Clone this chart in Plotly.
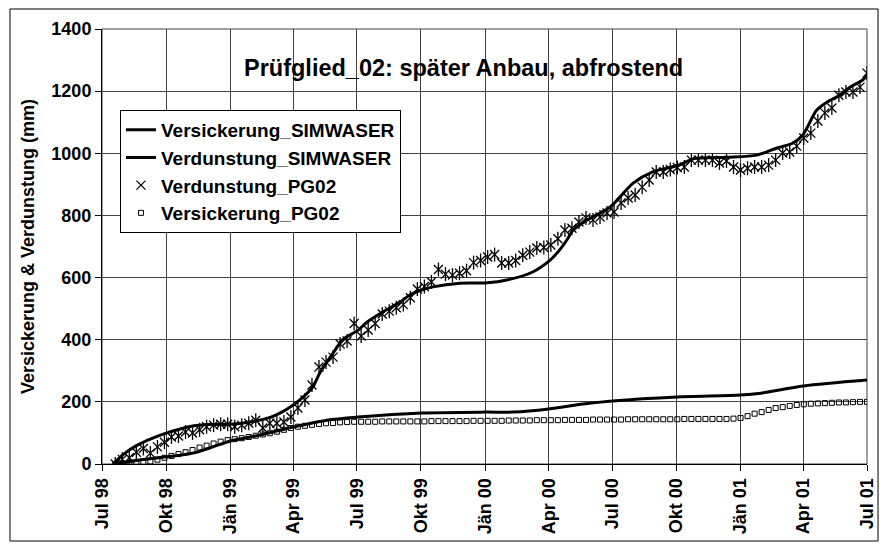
import pandas as pd
import plotly.graph_objects as go

# quarterly ticks on the date axis
tick_dates = ["1998-07-01", "1998-10-01", "1999-01-01", "1999-04-01", "1999-07-01",
              "1999-10-01", "2000-01-01", "2000-04-01", "2000-07-01", "2000-10-01",
              "2001-01-01", "2001-04-01", "2001-07-01"]
tick_labels = ["Jul 98", "Okt 98", "Jän 99", "Apr 99", "Jul 99", "Okt 99", "Jän 00",
               "Apr 00", "Jul 00", "Okt 00", "Jän 01", "Apr 01", "Jul 01"]

# simulated (SIMWASER) cumulative series
verd_sim_dates = ["1998-07-17", "1998-08-01", "1998-08-20", "1998-09-10", "1998-10-02",
                  "1998-10-20", "1998-11-08", "1998-12-01", "1999-01-01", "1999-02-01",
                  "1999-02-27", "1999-03-15", "1999-04-01", "1999-04-15", "1999-04-29",
                  "1999-05-09", "1999-05-28", "1999-06-11", "1999-07-03", "1999-07-16",
                  "1999-08-08", "1999-09-01", "1999-09-15", "1999-10-02", "1999-10-18",
                  "1999-11-26", "2000-01-04", "2000-02-01", "2000-03-09", "2000-04-03",
                  "2000-04-17", "2000-04-27", "2000-05-06", "2000-05-26", "2000-06-28",
                  "2000-07-31", "2000-08-28", "2000-09-17", "2000-10-06", "2000-10-25",
                  "2000-12-12", "2001-01-24", "2001-02-22", "2001-03-17", "2001-03-31",
                  "2001-04-20", "2001-05-05", "2001-05-23", "2001-06-07", "2001-06-25",
                  "2001-07-01"]
verd_sim = [0, 32, 60, 82, 100, 112, 122, 127, 128, 136, 150, 166, 190, 215, 248,
            293, 357, 400, 431, 457, 490, 521, 544, 560, 570, 582, 583, 592, 618, 656,
            690, 721, 753, 785, 827, 904, 940, 952, 963, 982, 987, 994, 1017, 1033, 1059,
            1139, 1165, 1187, 1213, 1236, 1252]

vers_sim_dates = ["1998-07-17", "1998-08-24", "1998-10-02", "1998-11-08", "1998-12-07",
                  "1999-01-01", "1999-02-12", "1999-04-01", "1999-05-19", "1999-07-03",
                  "1999-10-02", "2000-01-01", "2000-02-10", "2000-04-01", "2000-05-20",
                  "2000-07-01", "2000-10-02", "2001-01-01", "2001-01-30", "2001-04-01",
                  "2001-07-01"]
vers_sim = [0, 13, 23, 35, 55, 74, 93, 119, 141, 151, 164, 167, 167, 177, 193,
            203, 216, 222, 228, 251, 270]

# measured (PG02) values, roughly every 10 days
pg_dates = pd.date_range("1998-07-20", "2001-07-01", periods=108)
verd_pg = [0, 15, 20, 38, 50, 35, 55, 70, 87, 90,
           103, 100, 110, 120, 125, 128, 128, 120, 125, 131,
           141, 116, 131, 131, 135, 151, 180, 206, 254, 312,
           328, 344, 386, 396, 452, 412, 431, 452, 483, 492,
           503, 513, 535, 563, 571, 586, 626, 611, 608, 614,
           622, 648, 655, 666, 674, 647, 647, 655, 672, 682,
           695, 697, 705, 725, 753, 759, 779, 792, 785, 795,
           808, 811, 840, 856, 866, 891, 914, 940, 940, 948,
           954, 956, 978, 978, 978, 978, 969, 975, 956, 946,
           952, 956, 956, 962, 978, 1001, 1004, 1023, 1049, 1065,
           1104, 1130, 1146, 1187, 1197, 1197, 1213, 1258]
vers_pg = [0, 2, 3, 4, 5, 8, 14, 20, 26, 32,
           38, 45, 53, 59, 66, 72, 77, 80, 83, 87,
           91, 95, 99, 104, 110, 116, 120, 123, 126, 129,
           131, 132, 134, 135, 136, 136, 136, 136, 137, 137,
           137, 137, 137, 137, 137, 138, 138, 138, 138, 138,
           138, 139, 139, 139, 139, 139, 140, 140, 140, 140,
           141, 141, 141, 141, 142, 142, 142, 142, 143, 143,
           143, 143, 143, 144, 144, 144, 144, 144, 144, 144,
           144, 145, 145, 145, 145, 145, 145, 145, 146, 148,
           154, 162, 167, 174, 180, 183, 187, 190, 192, 194,
           195, 196, 197, 198, 198, 199, 200, 200]

fig = go.Figure()
fig.add_trace(go.Scatter(x=vers_sim_dates, y=vers_sim, mode="lines", name="Versickerung_SIMWASER",
                         line=dict(color="black", width=3, shape="spline", smoothing=0.8)))
fig.add_trace(go.Scatter(x=verd_sim_dates, y=verd_sim, mode="lines", name="Verdunstung_SIMWASER",
                         line=dict(color="black", width=3, shape="spline", smoothing=0.8)))
fig.add_trace(go.Scatter(x=pg_dates, y=verd_pg, mode="markers", name="Verdunstung_PG02",
                         legendgroup="vpg",
                         marker=dict(symbol="x-thin-open", size=9, color="black",
                                     line=dict(color="black", width=1.3))))
fig.add_trace(go.Scatter(x=pg_dates, y=verd_pg, mode="markers", showlegend=False,
                         legendgroup="vpg", hoverinfo="skip",
                         marker=dict(symbol="line-ns-open", size=10, color="black",
                                     line=dict(color="black", width=1.3))))
fig.add_trace(go.Scatter(x=pg_dates, y=vers_pg, mode="markers", name="Versickerung_PG02",
                         marker=dict(symbol="square-open", size=5, color="black",
                                     line=dict(color="black", width=1))))

# page body keeps its 8px margin, so the figure is 16px smaller than the window
fig.update_layout(
    width=871, height=534,
    margin=dict(l=94, r=12, t=21, b=78),
    paper_bgcolor="white", plot_bgcolor="white",
    font=dict(family="Liberation Sans, Arial", size=18, color="black", weight="bold"),
    legend=dict(x=0.0235, y=0.814, xanchor="left", yanchor="top",
                bordercolor="black", borderwidth=1, bgcolor="white",
                font=dict(size=19), tracegroupgap=0),
    xaxis=dict(type="date", range=["1998-07-01", "2001-07-01"], automargin=False,
               tickvals=tick_dates, ticktext=tick_labels, tickangle=-90,
               showgrid=True, gridcolor="#404040", gridwidth=1,
               ticks="outside", ticklen=6, tickcolor="black",
               showline=True, linecolor="black", linewidth=1, zeroline=False),
    yaxis=dict(range=[0, 1400], dtick=200, automargin=False,
               showgrid=True, gridcolor="#404040", gridwidth=1,
               ticks="outside", ticklen=6, tickcolor="black",
               showline=True, linecolor="black", linewidth=1, zeroline=False,
               title=dict(text="Versickerung & Verdunstung (mm)", font=dict(size=18),
                          standoff=12)),
    shapes=[
        dict(type="rect", xref="paper", yref="paper", x0=0, x1=1, y0=0, y1=1,
             line=dict(color="#404040", width=1), layer="below"),
        dict(type="rect", xref="paper", yref="paper", x0=-0.1203, x1=1.0144,
             y0=-0.177, y1=1.046, line=dict(color="black", width=1)),
    ],
    annotations=[
        dict(text="Prüfglied_02: später Anbau, abfrostend", xref="paper", yref="paper",
             x=0.472, y=0.945, showarrow=False, font=dict(size=23.5)),
    ],
)

fig.write_html("out.html")
